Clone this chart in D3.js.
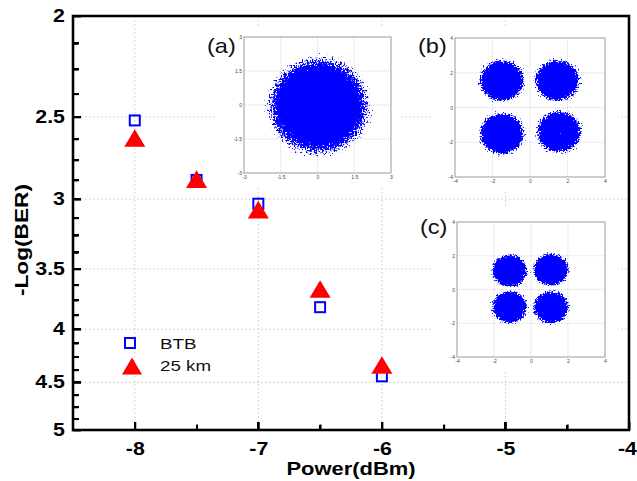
<!DOCTYPE html>
<html>
<head>
<meta charset="utf-8">
<script src="https://cdn.jsdelivr.net/npm/d3@7"></script>
<style>
  body { margin: 0; background: #fff; }
  #chart { position: relative; width: 637px; height: 481px; }
  svg { display: block; font-family: "Liberation Sans", Arial, sans-serif; }
  .ink { position: absolute; background: #000; pointer-events: none; }
</style>
</head>
<body>
<div id="chart"></div>
<script>
// measured points
const powers = [-8, -7.5, -7, -6.5, -6];
const btb = [2.52, 2.875, 3.03, 3.81, 4.44];
const km25 = [2.62, 2.87, 3.07, 3.66, 4.33];

const yTicks = [2, 2.5, 3, 3.5, 4, 4.5, 5];
const yMinor = d3.range(2.125, 5, 0.125).filter(v => !yTicks.includes(v));
const xTicks = [-8, -7, -6, -5, -4];
const xMinor = [-7.5, -6.5, -5.5, -4.5];
const seriesNames = ["BTB", "25 km"];

// constellation insets: cluster centre x, y, outer radius x, y
const insetNames = ["(a)", "(b)", "(c)"];
const ticksA = [-3, -1.5, 0, 1.5, 3];
const ticksBC = [-4, -2, 0, 2, 4];
const cloudA = [[0.05, -0.05, 2.6, 2.7]];
const cloudB = [[-1.5, 1.55, 1.55, 1.55], [1.45, 1.55, 1.55, 1.55], [-1.5, -1.5, 1.55, 1.55], [1.55, -1.4, 1.55, 1.55]];
const cloudC = [[-1.16, 1.11, 1.25, 1.25], [1.08, 1.17, 1.25, 1.25], [-1.16, -1.05, 1.25, 1.25], [1.08, -1.05, 1.25, 1.25]];

const W = 637, H = 481;
const margin = {top: 16, right: 8, bottom: 51, left: 73};
const plotW = W - margin.left - margin.right;
const plotH = H - margin.top - margin.bottom;
const SX = 1.22;

const chart = d3.select("#chart");
const svg = chart.append("svg").attr("width", W).attr("height", H);

const defs = svg.append("defs");
const grad = defs.append("radialGradient").attr("id", "cloud");
[[0, 1], [0.58, 1], [1, 0]].forEach(s =>
  grad.append("stop").attr("offset", s[0]).attr("stop-color", "#0000ff").attr("stop-opacity", s[1]));

// scattered dots on the soft edge of each cloud
const filt = defs.append("filter").attr("id", "speckle")
    .attr("x", "-5%").attr("y", "-5%").attr("width", "110%").attr("height", "110%");
filt.append("feTurbulence").attr("type", "fractalNoise").attr("baseFrequency", 0.6)
    .attr("numOctaves", 2).attr("seed", 4).attr("result", "noise");
filt.append("feColorMatrix").attr("in", "noise").attr("type", "matrix")
    .attr("values", "0 0 0 0 0  0 0 0 0 0  0 0 0 0 0  1 0 0 0 0").attr("result", "na");
filt.append("feComposite").attr("in", "na").attr("in2", "SourceAlpha").attr("operator", "arithmetic")
    .attr("k1", 0).attr("k2", 9).attr("k3", 9).attr("k4", -9.6).attr("result", "mask");
filt.append("feFlood").attr("flood-color", "#0000ff").attr("result", "blue");
filt.append("feComposite").attr("in", "blue").attr("in2", "mask").attr("operator", "in");

const x = d3.scaleLinear().domain([-8.5, -4]).range([0, plotW]);
const y = d3.scaleLog().domain([2, 5]).range([0, plotH]);

const g = svg.append("g").attr("transform", `translate(${margin.left},${margin.top})`);

// dotted grid
g.append("g").selectAll("line").data(xTicks.slice(0, -1)).join("line")
    .attr("x1", d => x(d)).attr("x2", d => x(d)).attr("y1", 0).attr("y2", plotH)
    .attr("stroke", "#c8c8c8").attr("stroke-width", 1).attr("stroke-dasharray", "1.5,2.5");
g.append("g").selectAll("line").data(yTicks.slice(1, -1)).join("line")
    .attr("y1", d => y(d)).attr("y2", d => y(d)).attr("x1", 0).attr("x2", plotW)
    .attr("stroke", "#c8c8c8").attr("stroke-width", 1).attr("stroke-dasharray", "1.5,2.5");

// insets
const insets = [
  {name: insetNames[0], ticks: ticksA, cloud: cloudA, box: [217, 27, 183, 161], frame: [244, 37, 147, 136], lab: [207, 52.5]},
  {name: insetNames[1], ticks: ticksBC, cloud: cloudB, box: [433, 27, 185, 163], frame: [455, 38, 150, 139], lab: [418, 52.5]},
  {name: insetNames[2], ticks: ticksBC, cloud: cloudC, box: [432, 208, 186, 162], frame: [457, 222, 148, 135], lab: [420, 233.5]}
];

const insetLayer = svg.append("g");
insets.forEach(ins => {
  insetLayer.append("rect").attr("x", ins.box[0]).attr("y", ins.box[1])
      .attr("width", ins.box[2]).attr("height", ins.box[3]).attr("fill", "#fff");
  const [fx, fy, fw, fh] = ins.frame;
  const ig = insetLayer.append("g").attr("transform", `translate(${fx},${fy})`);
  const ext = d3.extent(ins.ticks);
  const ix = d3.scaleLinear().domain(ext).range([0, fw]);
  const iy = d3.scaleLinear().domain(ext).range([fh, 0]);

  ig.append("g").selectAll("line").data(ins.ticks.slice(1, -1)).join("line")
      .attr("x1", d => ix(d)).attr("x2", d => ix(d)).attr("y1", 0).attr("y2", fh)
      .attr("stroke", "#cfcfcf").attr("stroke-width", 0.8).attr("stroke-dasharray", "1,1");
  ig.append("g").selectAll("line").data(ins.ticks.slice(1, -1)).join("line")
      .attr("y1", d => iy(d)).attr("y2", d => iy(d)).attr("x1", 0).attr("x2", fw)
      .attr("stroke", "#cfcfcf").attr("stroke-width", 0.8).attr("stroke-dasharray", "1,1");

  ig.append("g").selectAll("ellipse").data(ins.cloud).join("ellipse")
      .attr("cx", d => ix(d[0])).attr("cy", d => iy(d[1]))
      .attr("rx", d => ix(d[2]) - ix(0)).attr("ry", d => iy(0) - iy(d[3]))
      .attr("fill", "url(#cloud)").attr("filter", "url(#speckle)");

  ig.append("rect").attr("width", fw).attr("height", fh)
      .attr("fill", "none").attr("stroke", "#9a9a9a").attr("stroke-width", 1);

  const ax = ig.append("g").attr("transform", `translate(0,${fh})`)
      .call(d3.axisBottom(ix).tickValues(ins.ticks).tickSize(0).tickPadding(2).tickFormat(d => String(d)));
  const ay = ig.append("g")
      .call(d3.axisLeft(iy).tickValues(ins.ticks).tickSize(0).tickPadding(2).tickFormat(d => String(d)));
  [ax, ay].forEach(a => {
    a.select(".domain").remove();
    a.selectAll("text").attr("font-size", 5).attr("fill", "#444").attr("font-family", "Liberation Sans, Arial");
  });

  insetLayer.append("text").attr("transform", `translate(${ins.lab[0]},${ins.lab[1]}) scale(1.12,1)`)
      .attr("font-size", 21).attr("fill", "#111").text(ins.name);
});

// main axes with inward ticks
const plot = svg.append("g").attr("transform", `translate(${margin.left},${margin.top})`);
const yAx = plot.append("g").call(d3.axisLeft(y).tickValues(yTicks).tickSize(-8).tickPadding(8).tickFormat(d => String(d)));
const yMin = plot.append("g").call(d3.axisLeft(y).tickValues(yMinor).tickSize(-5.5).tickFormat(() => ""));
const xAx = plot.append("g").attr("transform", `translate(0,${plotH})`)
    .call(d3.axisBottom(x).tickValues(xTicks).tickSize(-8).tickPadding(13).tickFormat(d => String(d)));
const xMin = plot.append("g").attr("transform", `translate(0,${plotH})`)
    .call(d3.axisBottom(x).tickValues(xMinor).tickSize(-5.5).tickFormat(() => ""));

[yAx, yMin, xAx, xMin].forEach(a => {
  a.select(".domain").remove();
  a.selectAll(".tick line").attr("stroke", "#111").attr("stroke-width", 2);
});

yAx.selectAll("text").attr("x", null).attr("transform", `translate(-8,0) scale(${SX},1)`);
xAx.selectAll("text").attr("transform", `scale(${SX},1)`);
xAx.selectAll("text").filter(d => d === -4).attr("text-anchor", "end").attr("x", 7.5 / SX);
[yAx, xAx].forEach(a => a.selectAll("text")
    .attr("font-size", 17.5).attr("font-weight", "bold").attr("fill", "#000")
    .attr("font-family", "Liberation Sans, Arial"));

plot.append("rect").attr("x", 0).attr("y", 0).attr("width", plotW).attr("height", plotH)
    .attr("fill", "none").attr("stroke", "#111").attr("stroke-width", 2.6);

// titles
svg.append("text").attr("transform", `translate(351,475) scale(${SX},1)`)
    .attr("text-anchor", "middle").attr("font-size", 18).attr("font-weight", "bold").text("Power(dBm)");
svg.append("text").attr("transform", `translate(28,240) rotate(-90) scale(1.26,1)`)
    .attr("text-anchor", "middle").attr("font-size", 18).attr("font-weight", "bold").text("-Log(BER)");

// markers
const tri = s => `M0,${-s * 0.42}L${s / 2},${s * 0.42}L${-s / 2},${s * 0.42}Z`;
plot.append("g").selectAll("rect").data(powers).join("rect")
    .attr("x", d => x(d) - 5).attr("y", (d, i) => y(btb[i]) - 5)
    .attr("width", 10).attr("height", 10)
    .attr("fill", "none").attr("stroke", "#0000ff").attr("stroke-width", 2);
plot.append("g").selectAll("path").data(powers).join("path")
    .attr("transform", (d, i) => `translate(${x(d)},${y(km25[i])})`)
    .attr("d", tri(21)).attr("fill", "#ff0000");

// legend
const leg = svg.append("g");
leg.append("rect").attr("x", 125).attr("y", 338).attr("width", 10).attr("height", 10)
    .attr("fill", "none").attr("stroke", "#0000ff").attr("stroke-width", 2);
leg.append("path").attr("transform", "translate(132,366)").attr("d", tri(20)).attr("fill", "#ff0000");
leg.selectAll("text").data(seriesNames).join("text")
    .attr("transform", (d, i) => `translate(160,${349 + i * 22}) scale(1.25,1)`)
    .attr("font-size", 15).attr("fill", "#111").text(d => d);

// frame and ticks again as html bars over the svg
const L = margin.left, T = margin.top, bw = 2.6;
const bars = [
  [L - bw / 2, T - bw / 2, plotW + bw, bw], [L - bw / 2, T + plotH - bw / 2, plotW + bw, bw],
  [L - bw / 2, T - bw / 2, bw, plotH + bw], [L + plotW - bw / 2, T - bw / 2, bw, plotH + bw]
];
yTicks.forEach(v => bars.push([L, T + y(v) - 1, 8, 2]));
yMinor.forEach(v => bars.push([L, T + y(v) - 1, 5.5, 2]));
xTicks.forEach(v => bars.push([L + x(v) - 1, T + plotH - 8, 2, 8]));
xMinor.forEach(v => bars.push([L + x(v) - 1, T + plotH - 5.5, 2, 5.5]));
chart.selectAll("div.ink").data(bars).join("div").attr("class", "ink")
    .style("left", d => d[0] + "px").style("top", d => d[1] + "px")
    .style("width", d => d[2] + "px").style("height", d => d[3] + "px");
</script>
</body>
</html>
